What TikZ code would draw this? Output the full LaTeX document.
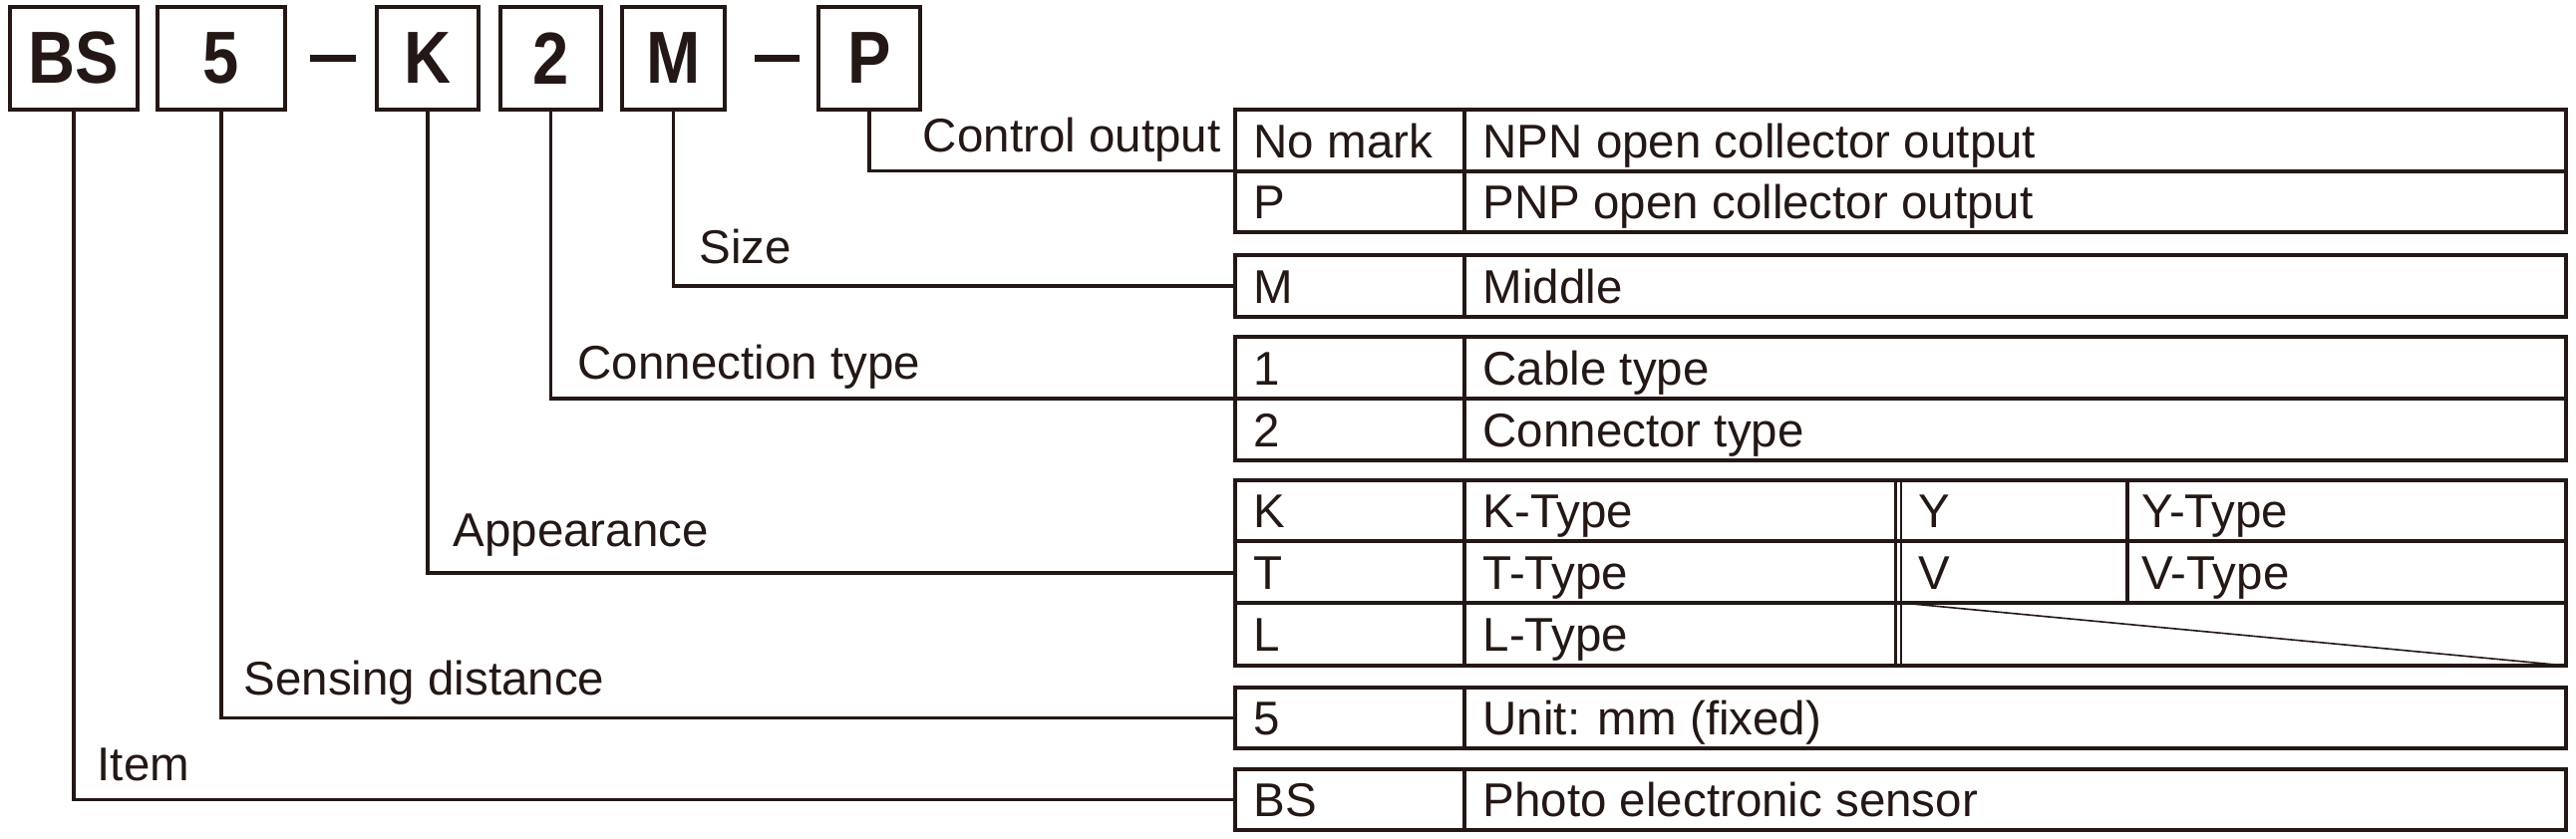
\documentclass[tikz,border=0pt]{standalone}
\usepackage{fontspec}
\setmainfont{Liberation Sans}
\definecolor{ink}{RGB}{35,24,21}
\newcommand\codefont{\fontsize{74}{80}\selectfont\bfseries}
\newcommand\cellfont{\fontsize{47.5}{52}\selectfont}
\newcommand\cond[1]{\scalebox{0.88}[1]{#1}}
\begin{document}
\begin{tikzpicture}[x=1pt,y=-1pt,line width=3.3pt,draw=ink,text=ink,
  codebox/.style={draw,line width=3.3pt,inner sep=0pt,minimum width=#1pt,minimum height=103pt,font=\codefont},
  blk/.style={draw,line width=3.3pt,inner sep=0pt,minimum width=1335pt,minimum height=#1pt},
  txt/.style={font=\cellfont,inner sep=0pt,anchor=base west},
  lbl/.style={font=\cellfont,inner sep=0pt,anchor=base west},
  leader/.style={line width=3.3pt,line cap=butt},
  thin/.style={line width=1.6pt},
  dbl/.style={line width=2.2pt}]
\useasboundingbox (0,0) rectangle (2584,841);
% code boxes
\node[codebox=128] (bBS) at (74,58.5) {\cond{BS}};
\node[codebox=128] (b5) at (222,58.5) {\cond{5}};
\node[codebox=102] (bK) at (429,58.5) {\cond{K}};
\node[codebox=101] (b2) at (552.5,58.5) {\cond{2}};
\node[codebox=103] (bM) at (675.5,58.5) {\cond{M}};
\node[codebox=102] (bP) at (872,58.5) {\cond{P}};
\fill[ink] (311,54.5) rectangle (357,61.5);
\fill[ink] (757,54.5) rectangle (802,61.5);
% table blocks
\node[blk=123] (ctl) at (1906.5,171.5) {};
\node[blk=62] (siz) at (1906.5,287) {};
\node[blk=124] (con) at (1906.5,400) {};
\node[blk=186] (app) at (1906.5,575) {};
\node[blk=61] (sen) at (1906.5,720.5) {};
\node[blk=61] (itm) at (1906.5,802.5) {};
% internal lines
\draw (1469,110) -- (1469,233);
\draw (1239,172) -- (2574,172);
\draw (1469,256) -- (1469,318);
\draw (1469,338) -- (1469,462);
\draw (1239,400) -- (2574,400);
\draw (1469,482) -- (1469,668);
\draw (1239,543) -- (2574,543);
\draw (1239,605) -- (2574,605);
\draw[dbl] (1901.5,482) -- (1901.5,668);
\draw[dbl] (1907,482) -- (1907,668);
\draw (2134,482) -- (2134,605);
\draw[thin] (1907,605) -- (2574,668);
\draw (1469,690) -- (1469,751);
\draw (1469,772) -- (1469,833);
% cell texts
\node[txt] (t1a) at (1256,158) {No mark};
\node[txt] (t1b) at (1486,158) {NPN open collector output};
\node[txt] (t2a) at (1256,219.5) {P};
\node[txt] (t2b) at (1486,219.5) {PNP open collector output};
\node[txt] (t3a) at (1256,304) {M};
\node[txt] (t3b) at (1486,304) {Middle};
\node[txt] (t4a) at (1256,386) {1};
\node[txt] (t4b) at (1486,386) {Cable type};
\node[txt] (t5a) at (1256,448) {2};
\node[txt] (t5b) at (1486,448) {Connector type};
\node[txt] (t6a) at (1256,529.5) {K};
\node[txt] (t6b) at (1486,529.5) {K-Type};
\node[txt] (t6c) at (1923,529.5) {Y};
\node[txt] (t6d) at (2147,529.5) {Y-Type};
\node[txt] (t7a) at (1256,591) {T};
\node[txt] (t7b) at (1486,591) {T-Type};
\node[txt] (t7c) at (1923,591) {V};
\node[txt] (t7d) at (2147,591) {V-Type};
\node[txt] (t8a) at (1256,653.5) {L};
\node[txt] (t8b) at (1486,653.5) {L-Type};
\node[txt] (t9a) at (1256,737.5) {5};
\node[txt] (t9b) at (1486,737.5) {Unit: mm (fixed)};
\node[txt] (t10a) at (1256,819.5) {BS};
\node[txt] (t10b) at (1486,819.5) {Photo electronic sensor};
% leaders
\draw[leader] (bP.south) |- (ctl.west);
\draw[leader] (bM.south) |- (siz.west);
\draw[leader] (b2.south) |- (con.west);
\draw[leader] (bK.south) |- (app.west);
\draw[leader] (b5.south) |- (sen.west);
\draw[leader] (bBS.south) |- (itm.west);
% labels
\node[lbl,anchor=base east] (lctl) at (1226,152) {Control output};
\node[lbl] (lsiz) at (700,264) {Size};
\node[lbl] (lcon) at (578,380) {Connection type};
\node[lbl] (lapp) at (453,548) {Appearance};
\node[lbl] (lsen) at (243,697) {Sensing distance};
\node[lbl] (litm) at (96,783) {Item};
\end{tikzpicture}
\end{document}
